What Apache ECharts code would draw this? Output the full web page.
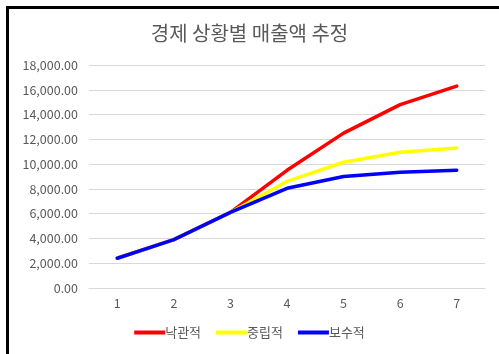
<!DOCTYPE html>
<html>
<head>
<meta charset="utf-8">
<script src="https://cdn.jsdelivr.net/npm/echarts@6/dist/echarts.min.js"></script>
<style>
  html, body { margin: 0; padding: 0; background: #fff; }
  #wrap { position: relative; width: 499px; height: 354px; overflow: hidden; background: #fff; }
  #frame { position: absolute; left: 6px; top: 6px; width: 520px; height: 345px;
           border-left: 3px solid #000; border-top: 3px solid #000; border-bottom: 4px solid #000; }
  #chart { position: absolute; left: 0; top: 0; width: 499px; height: 354px; }
</style>
</head>
<body>
<div id="wrap">
  <div id="frame"></div>
  <div id="chart"></div>
</div>
<script>
// 연도 구분 (1~7)
const categories = ['1', '2', '3', '4', '5', '6', '7'];
// 시나리오별 매출액
const optimistic   = [2400, 3900, 6100, 9500, 12500, 14800, 16300];
const neutral      = [2400, 3900, 6100, 8600, 10150, 10950, 11300];
const conservative = [2400, 3900, 6100, 8050, 9000, 9350, 9500];
const seriesNames = ['낙관적', '중립적', '보수적'];
const seriesColors = ['#ff0000', '#ffff00', '#0000ff'];

const font = '"Noto Sans CJK KR", "Noto Sans", sans-serif';
const chart = echarts.init(document.getElementById('chart'), null, { renderer: 'canvas' });

const values = [optimistic, neutral, conservative];

chart.setOption({
  backgroundColor: 'transparent',
  animation: false,
  textStyle: { fontFamily: font },
  title: {
    text: '경제 상황별 매출액 추정',
    left: 'center',
    top: 18,
    textStyle: { fontFamily: font, fontSize: 20, fontWeight: 'normal', color: '#595959' }
  },
  legend: {
    bottom: 10,
    left: 'center',
    itemWidth: 31,
    itemHeight: 4,
    itemGap: 15,
    icon: 'rect',
    textStyle: { fontFamily: font, fontSize: 13, color: '#595959', padding: [0, 0, 0, -5] },
    data: seriesNames
  },
  grid: { left: 89, right: 14, top: 65, bottom: 66 },
  xAxis: {
    type: 'category',
    data: categories,
    boundaryGap: true,
    axisLine: { show: true, lineStyle: { color: '#d9d9d9', width: 1 } },
    axisTick: { show: false },
    axisLabel: { color: '#595959', fontSize: 12.5, fontFamily: font, margin: 9 }
  },
  yAxis: {
    type: 'value',
    min: 0,
    max: 18000,
    interval: 2000,
    axisLine: { show: false },
    axisTick: { show: false },
    splitLine: { lineStyle: { color: '#d9d9d9', width: 1 } },
    axisLabel: {
      color: '#595959', fontSize: 12.5, fontFamily: font, margin: 11,
      formatter: v => v.toLocaleString('en-US', { minimumFractionDigits: 2, maximumFractionDigits: 2 })
    }
  },
  // 보수적 시나리오가 가장 위에 그려지도록 z 순서를 지정
  series: values.map((d, i) => ({
    name: seriesNames[i],
    type: 'line',
    data: d,
    symbol: 'none',
    z: 3 + i,
    lineStyle: { color: seriesColors[i], width: 3.5, cap: 'round', join: 'round' },
    itemStyle: { color: seriesColors[i] }
  }))
});
</script>
</body>
</html>
